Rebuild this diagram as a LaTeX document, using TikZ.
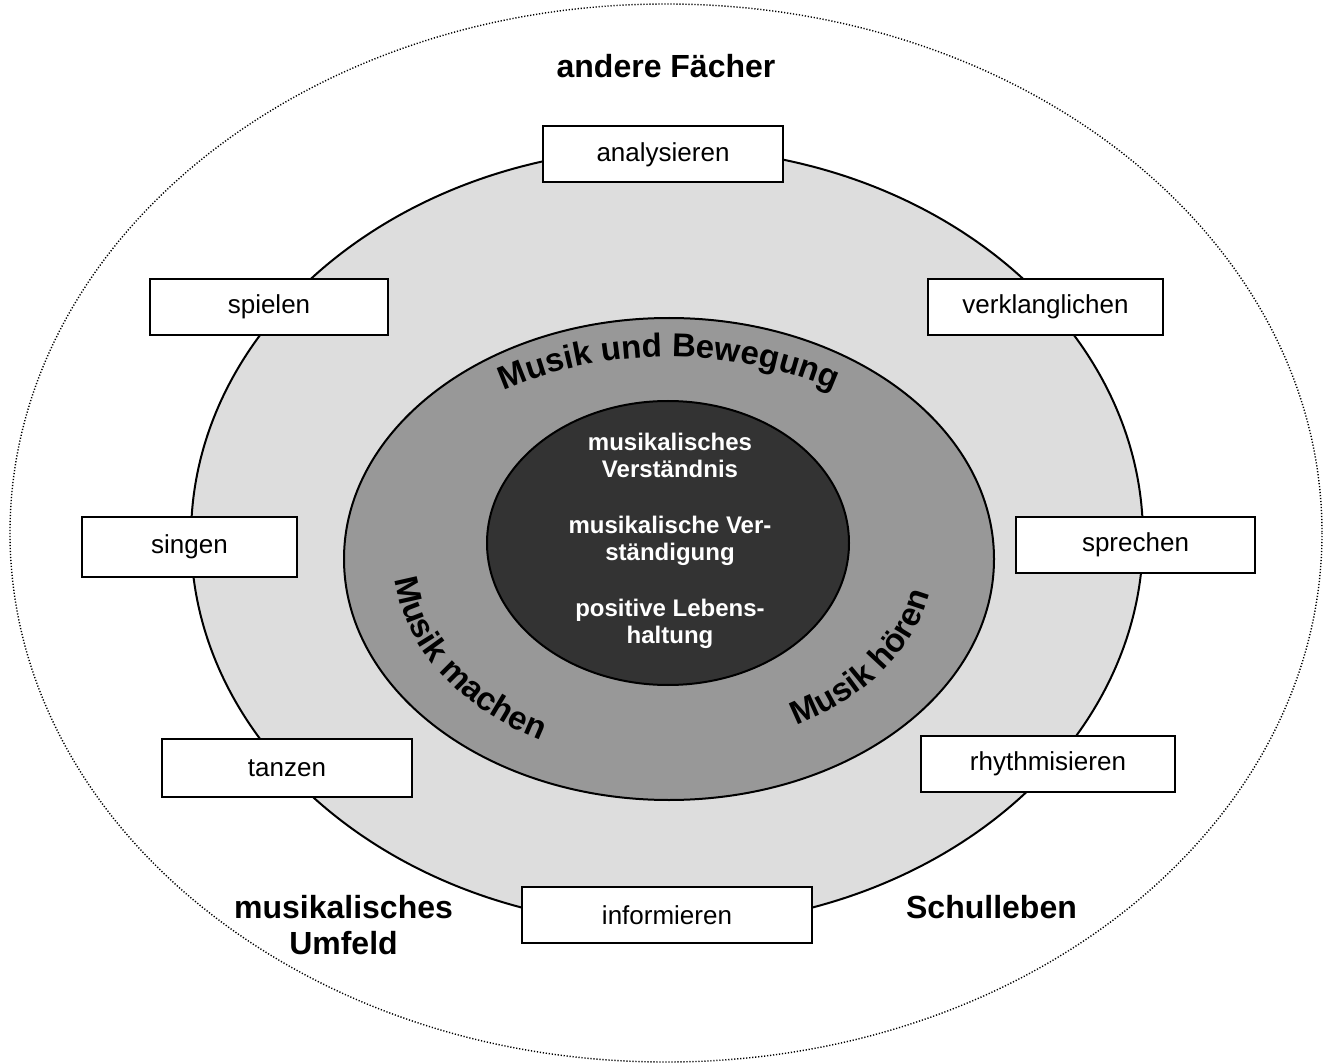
\documentclass[tikz,border=0pt]{standalone}
\usepackage{fontspec}
\setmainfont{Liberation Sans}
\usetikzlibrary{decorations.text}

\begin{document}
\begin{tikzpicture}[x=0.5pt,y=-0.5pt,
  verb/.style={draw,line width=1pt,fill=white,inner sep=0pt,minimum height=28pt,font=\fontsize{13}{15}\selectfont},
  feld/.style={font=\bfseries\fontsize{16}{18}\selectfont,align=center},
  ring/.style={draw,line width=1pt}]
\useasboundingbox (0,0) rectangle (1329,1064);
% Ringe
\draw [line width=0.7pt,dash pattern=on 0.6pt off 0.9pt] (666,533) ellipse [x radius=656,y radius=529];
\draw [ring,fill={rgb,255:red,221;green,221;blue,221}] (667,537) ellipse [x radius=476,y radius=389];
\draw [ring,fill={rgb,255:red,152;green,152;blue,152}] (669,559) ellipse [x radius=325,y radius=241];
\draw [ring,fill={rgb,255:red,51;green,51;blue,51}] (668,543) ellipse [x radius=181,y radius=142];
% Kern
\node [font=\bfseries\fontsize{12}{13.5}\selectfont,text=white,align=center] (kern) at (670,541)
  {musikalisches\\Verständnis\\[14.5pt]musikalische Ver-\\ständigung\\[14.5pt]positive Lebens-\\haltung};
% Schrift auf den Bögen
\path [decorate,decoration={text along path,text align=center,
  text={|\bfseries\fontsize{16.5}{20}\selectfont|Musik und Bewegung}}]
  (669,559) ++(210:300 and 202) arc [start angle=210,end angle=330,x radius=300,y radius=202];
\path [decorate,decoration={text along path,text align=center,
  text={|\bfseries\fontsize{16.5}{20}\selectfont|Musik machen}}]
  (669,559) ++(210:275 and 205) arc [start angle=210,end angle=90,x radius=275,y radius=205];
\path [decorate,decoration={text along path,text align=center,
  text={|\bfseries\fontsize{16.5}{20}\selectfont|Musik hören}}]
  (669,559) ++(91:265 and 190) arc [start angle=91,end angle=-29,x radius=265,y radius=190];
% Tätigkeiten
\node [verb,minimum width=120pt] (analysieren) at (663,154.5) {analysieren};
\node [verb,minimum width=119pt] (spielen) at (269,307) {spielen};
\node [verb,minimum width=117.5pt] (verklanglichen) at (1045.5,307) {verklanglichen};
\node [verb,minimum width=107.5pt,minimum height=30pt] (singen) at (189.5,547) {singen};
\node [verb,minimum width=119.5pt] (sprechen) at (1135.5,544.5) {sprechen};
\node [verb,minimum width=125pt,minimum height=29pt] (tanzen) at (287,768) {tanzen};
\node [verb,minimum width=127pt] (rhythmisieren) at (1048,764) {rhythmisieren};
\node [verb,minimum width=145pt] (informieren) at (667,915) {informieren};
% Umfeld
\node [feld] (faecher) at (666,66) {andere Fächer};
\node [feld] (umfeld) at (343.5,925) {musikalisches\\Umfeld};
\node [feld] (schulleben) at (991.5,907) {Schulleben};
\end{tikzpicture}
\end{document}
